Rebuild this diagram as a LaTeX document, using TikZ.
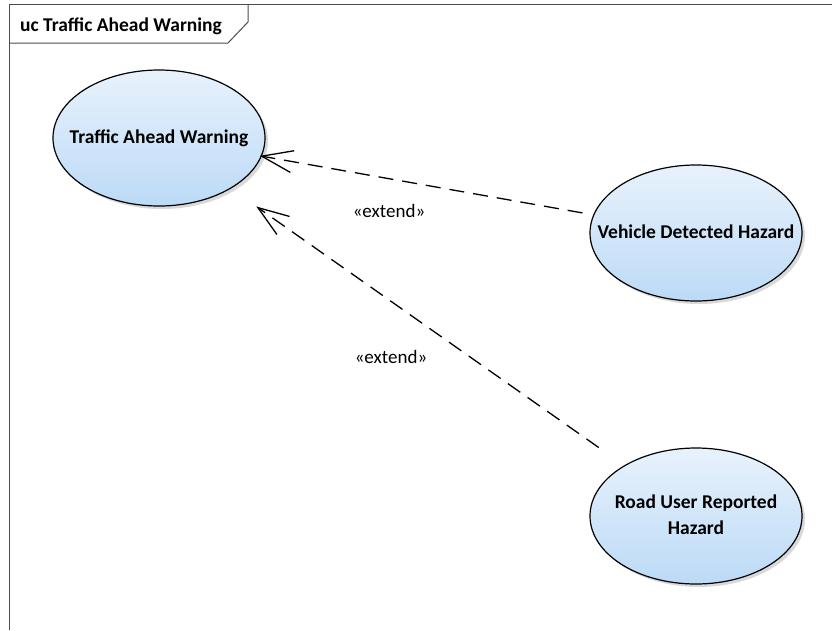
\documentclass[tikz,border=0pt]{standalone}
\usepackage{fontspec}
\setmainfont{Carlito}
\usetikzlibrary{shapes.geometric,arrows.meta,shadows}
\definecolor{uctop}{HTML}{E8F2FC}
\definecolor{ucbot}{HTML}{BCDAF6}
\newcommand{\uctext}[1]{\makebox[0pt][c]{\begin{tabular}{@{}c@{}}#1\end{tabular}}}
\tikzset{
  uc/.style={ellipse, draw=black, line width=1.2pt, inner sep=0pt,
    minimum width=212pt, minimum height=136pt, top color=uctop, bottom color=ucbot,
    font=\fontsize{19.5}{26}\selectfont\bfseries,
    drop shadow={shadow xshift=3pt, shadow yshift=-3pt, fill=black!15, opacity=1}},
  extend/.style={draw=black, line width=1.3pt, dash pattern=on 15pt off 9pt,
    -{Straight Barb[length=31pt,width=22pt,line width=1.3pt]}},
  lbl/.style={font=\fontsize{19}{22}\selectfont, inner sep=0pt}
}
\begin{document}
\begin{tikzpicture}[x=1pt,y=-1pt]
\useasboundingbox (0,0) rectangle (832,630);
% frame
\draw[line width=1pt, black!70] (9,630) -- (9,4) -- (832,4);
\draw[line width=1pt, black!70] (9,43) -- (228,43) -- (248,22) -- (248,4);
\node[anchor=west, inner sep=0pt, font=\fontsize{19.5}{22}\selectfont\bfseries] (title) at (20,26) {uc Traffic Ahead Warning};
% use cases
\node[uc] (taw) at (159,138) {\uctext{Traffic Ahead Warning}};
\node[uc] (vdh) at (696,233) {\uctext{Vehicle Detected Hazard}};
\node[uc] (rurh) at (696,516) {\uctext{Road User Reported\\Hazard}};
% connectors
\draw[extend, shorten <=11pt, shorten >=-2pt] (vdh) -- (taw);
\draw[extend, shorten <=31pt, shorten >=31pt] (rurh) -- (taw);
\node[lbl] (l1) at (389,211) {«extend»};
\node[lbl] (l2) at (391,357) {«extend»};
\end{tikzpicture}
\end{document}
